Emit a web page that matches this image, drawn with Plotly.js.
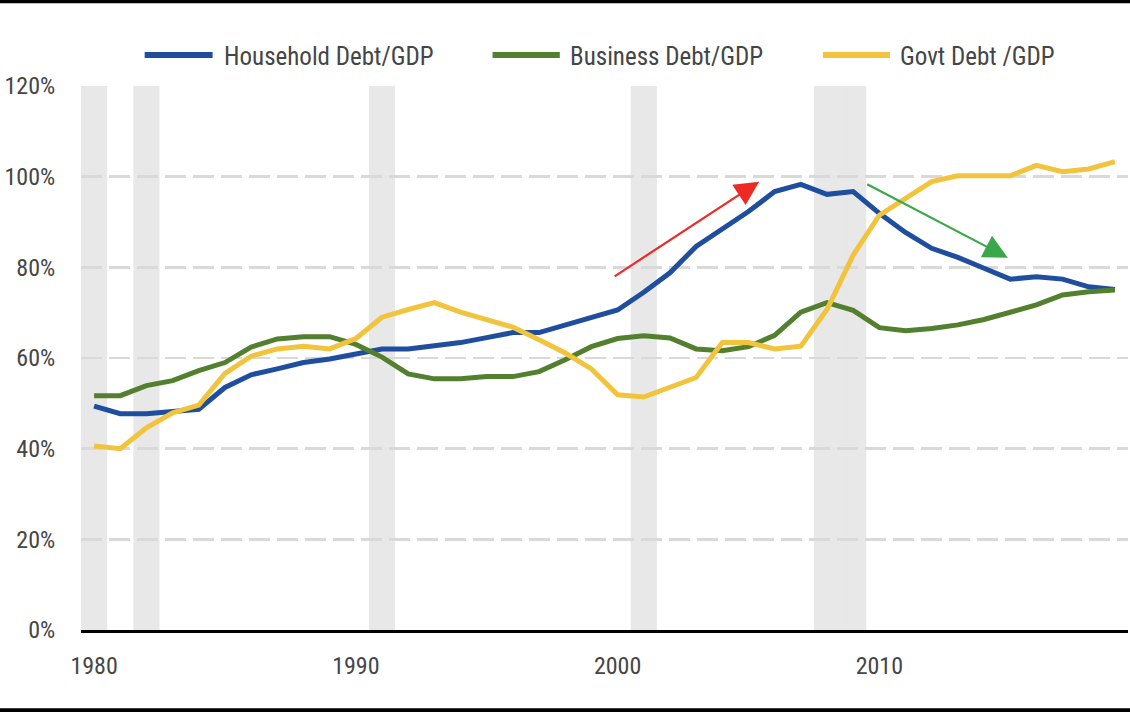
<!DOCTYPE html>
<html>
<head>
<meta charset="utf-8">
<script src="https://cdn.plot.ly/plotly-3.0.1.min.js"></script>
<style>html,body{margin:0;padding:0;background:#fff;}#chart{width:1130px;height:712px;}</style>
</head>
<body>
<div id="chart"></div>
<script>
// ---- Data ----
const years = [1980,1981,1982,1983,1984,1985,1986,1987,1988,1989,
               1990,1991,1992,1993,1994,1995,1996,1997,1998,1999,
               2000,2001,2002,2003,2004,2005,2006,2007,2008,2009,
               2010,2011,2012,2013,2014,2015,2016,2017,2018,2019];

const householdDebt = [49.4,47.7,47.7,48.1,48.7,53.5,56.3,57.6,59.0,59.8,
                       61.0,62.0,62.0,62.6,63.4,64.5,65.6,65.6,67.3,69.0,
                       70.6,74.5,78.8,84.6,88.5,92.3,96.7,98.3,96.1,96.7,
                       91.9,87.7,84.2,82.2,79.8,77.4,77.9,77.4,75.7,75.1];

const businessDebt = [51.7,51.7,53.9,55.0,57.2,59.0,62.4,64.2,64.7,64.7,
                      63.0,60.2,56.5,55.4,55.4,55.9,55.9,57.0,59.6,62.5,
                      64.3,64.9,64.4,62.0,61.6,62.5,65.0,70.1,72.2,70.5,
                      66.7,66.0,66.5,67.3,68.5,70.0,71.7,73.9,74.6,75.0];

const govtDebt = [40.6,40.0,44.6,47.9,49.6,56.6,60.4,62.0,62.6,62.0,
                  64.3,69.0,70.7,72.2,70.1,68.4,66.8,64.0,61.1,57.6,
                  51.9,51.4,53.5,55.7,63.4,63.4,62.0,62.6,70.7,82.7,
                  91.5,95.3,98.9,100.2,100.2,100.2,102.5,101.1,101.7,103.3];

const recessionYears = [1980,1982,1991,2001,2008,2009];

const seriesNames = ["Household Debt/GDP","Business Debt/GDP","Govt Debt /GDP"];
const seriesColors = ["#1f4e9f","#53802e","#f2c33c"];
const xTickVals = [1980,1990,2000,2010];
const yTickVals = [0,20,40,60,80,100,120];

// ---- Styling ----
const FONT = "'Liberation Sans Narrow', 'Roboto Condensed', Roboto, sans-serif";
const TXT = "#454545";

const seriesData = [householdDebt, businessDebt, govtDebt];
const traces = seriesData.map((vals, i) => ({
  type: "scatter", mode: "lines",
  x: years, y: vals, name: seriesNames[i],
  line: {color: seriesColors[i], width: 5},
  showlegend: false, hoverinfo: "skip"
}));

const shapes = [];
recessionYears.forEach(yr => {
  shapes.push({type: "rect", layer: "below", xref: "x", yref: "y",
    x0: yr - 0.5, x1: yr + 0.5, y0: 0, y1: 120,
    fillcolor: "#e8e8e8", line: {width: 0}});
});

// custom legend (long line samples as in the reference)
const legendPos = [[0.0608,0.1257,0.1343],[0.3931,0.4573,0.4649],[0.7086,0.7726,0.7803]];
const legendY = 1.054;
const annotations = [];
seriesNames.forEach((nm, i) => {
  shapes.push({type: "line", xref: "paper", yref: "paper",
    x0: legendPos[i][0], x1: legendPos[i][1], y0: 1.057, y1: 1.057,
    line: {color: seriesColors[i], width: 6}});
  annotations.push({xref: "paper", yref: "paper", x: legendPos[i][2], y: legendY,
    xanchor: "left", yanchor: "middle", showarrow: false, text: nm,
    font: {family: FONT, size: 25, color: TXT}});
});

// frame bands at top and bottom of picture
shapes.push({type: "line", xref: "paper", yref: "paper", x0: -0.1, x1: 1.1, y0: 1.1553, y1: 1.1553,
  line: {color: "#000", width: 3.5}});
shapes.push({type: "line", xref: "paper", yref: "paper", x0: -0.1, x1: 1.1, y0: -0.1475, y1: -0.1475,
  line: {color: "#000", width: 4}});

// trend arrows
annotations.push({xref: "x", yref: "y", axref: "x", ayref: "y",
  x: 2005.41, y: 98.9, ax: 1999.83, ay: 77.8, text: "", showarrow: true,
  arrowhead: 2, arrowsize: 2.2, arrowwidth: 2.2, arrowcolor: "#ee2a24", standoff: 0});
annotations.push({xref: "x", yref: "y", axref: "x", ayref: "y",
  x: 2014.91, y: 82.1, ax: 2009.48, ay: 98.5, text: "", showarrow: true,
  arrowhead: 2, arrowsize: 2.2, arrowwidth: 2.2, arrowcolor: "#3aa84a", standoff: 0});

const layout = {
  width: 1130, height: 712,
  margin: {l: 81, r: 2, t: 86, b: 82},
  paper_bgcolor: "#ffffff", plot_bgcolor: "#ffffff",
  showlegend: false,
  font: {family: FONT, size: 24, color: TXT},
  xaxis: {
    range: [1979.5, 2019.5], tickvals: xTickVals, ticktext: xTickVals.map(String),
    showgrid: false, zeroline: false,
    showline: true, linecolor: "#000000", linewidth: 3,
    ticks: "outside", ticklen: 12, tickcolor: "rgba(0,0,0,0)",
    tickfont: {family: FONT, size: 24, color: TXT}, fixedrange: true
  },
  yaxis: {
    range: [0, 120], tickvals: yTickVals, ticktext: yTickVals.map(v => v + "%"),
    showgrid: true, gridcolor: "#d9d9d9", gridwidth: 2.5, griddash: "21px,7px",
    zeroline: false, showline: false,
    ticks: "outside", ticklen: 20, tickcolor: "rgba(0,0,0,0)",
    tickfont: {family: FONT, size: 24, color: TXT}, fixedrange: true
  },
  shapes: shapes,
  annotations: annotations
};

Plotly.newPlot("chart", traces, layout, {staticPlot: true, displayModeBar: false});
</script>
</body>
</html>
